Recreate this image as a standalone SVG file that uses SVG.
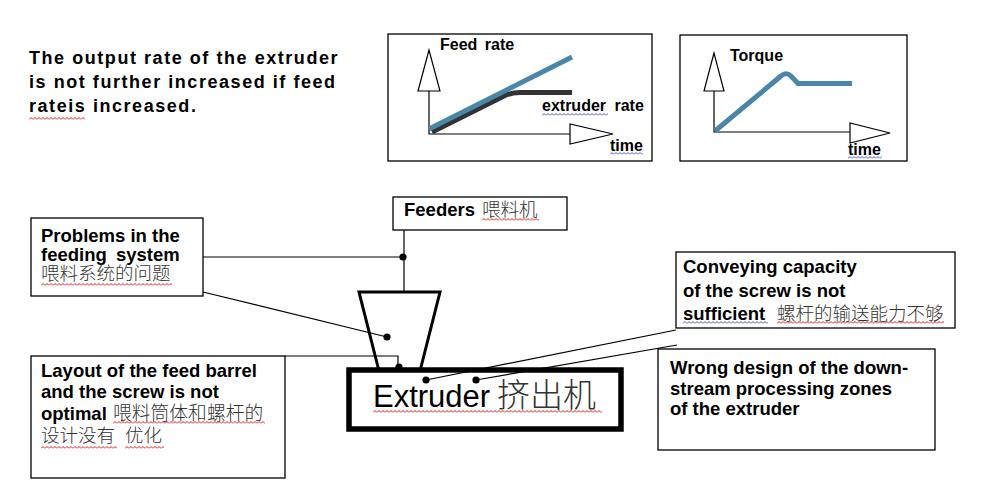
<svg xmlns="http://www.w3.org/2000/svg" width="987" height="486" viewBox="0 0 987 486">
<style>
.bg{fill:#fff}
.box{fill:#fff;stroke:#000;stroke-width:1.3}
.chart{fill:#fff;stroke:#000;stroke-width:1.3}
.ax{fill:none;stroke:#000;stroke-width:1.2}
.tri{fill:#fff;stroke:#000;stroke-width:1.2}
.lbl{font-family:"Liberation Sans",Arial,sans-serif;font-weight:bold;font-size:18.5px;fill:#000}
.clbl{font-family:"Liberation Sans",Arial,sans-serif;font-weight:bold;font-size:16px;fill:#000}
.cjk{font-family:"Noto Sans CJK SC","Liberation Sans",sans-serif;font-weight:300;fill:#333}
.con{fill:none;stroke:#000;stroke-width:1.2}
.dot{fill:#000}
</style>
<defs>
<pattern id="wr" patternUnits="userSpaceOnUse" width="4" height="3"><path d="M0,2.5 L2,0.5 L4,2.5" fill="none" stroke="#e00000" stroke-width="0.9"/></pattern>
<pattern id="wb" patternUnits="userSpaceOnUse" width="4" height="3"><path d="M0,2.5 L2,0.5 L4,2.5" fill="none" stroke="#3040d0" stroke-width="0.9"/></pattern>
</defs>
<rect class="bg" x="0" y="0" width="987" height="486"/>

<g id="title">
<text class="lbl" font-size="18" style="font-size:18px" letter-spacing="1.55" x="29" y="64">The output rate of the extruder</text>
<text class="lbl" style="font-size:18px" letter-spacing="1.55" x="29" y="88">is not further increased if feed</text>
<text class="lbl" style="font-size:18px" letter-spacing="1.55" x="29" y="112">rateis increased.</text>
<rect x="0" y="0" width="56" height="3" fill="url(#wr)" transform="translate(29,117)"/>
</g>

<g id="chart-feed">
<rect class="chart" x="388" y="34" width="264" height="127"/>
<polygon class="tri" points="429,50 418,91 440,91"/>
<path class="ax" d="M429,91 L429,134 L570,134"/>
<polygon class="tri" points="570,124 570,144 613,134"/>
<path d="M432,132 L506,95 Q512,92.5 520,92.5 L572,92.5" fill="none" stroke="#333" stroke-width="5"/>
<path d="M429,129 L572,57" fill="none" stroke="#4a86a8" stroke-width="5"/>
<text class="clbl" x="440" y="50" word-spacing="3">Feed rate</text>
<text class="clbl" x="542" y="111" word-spacing="4">extruder rate</text>
<rect x="0" y="0" width="66" height="3" fill="url(#wb)" transform="translate(542,113)"/>
<text class="clbl" x="610" y="151">time</text>
<rect x="0" y="0" width="33" height="3" fill="url(#wb)" transform="translate(610,152)"/>
</g>

<g id="chart-torque">
<rect class="chart" x="680" y="35" width="227" height="126"/>
<polygon class="tri" points="714,53 704,91 724,91"/>
<path class="ax" d="M714,91 L714,132 L850,132"/>
<polygon class="tri" points="850,123 850,143 890,133"/>
<path d="M715,131 L781,76 Q786,71.5 791,76 L798,83.5 L852,83.5" fill="none" stroke="#4a86a8" stroke-width="5"/>
<text class="clbl" x="730" y="61">Torque</text>
<text class="clbl" x="848" y="155">time</text>
<rect x="0" y="0" width="34" height="3" fill="url(#wb)" transform="translate(848,156)"/>
</g>

<g id="hopper">
<path d="M379,371 L359,292 L440,292 L420,371" fill="#fff" stroke="#000" stroke-width="3" stroke-linejoin="miter"/>
</g>

<g id="extruder">
<rect x="349" y="370" width="272" height="59" fill="#fff" stroke="#000" stroke-width="5.5"/>
<text x="373" y="407" font-family="Liberation Sans, Arial, sans-serif" font-size="31" fill="#000">Extruder<tspan class="cjk" x="497" font-size="33" fill="#111">挤出机</tspan></text>
<rect x="0" y="0" width="229" height="3" fill="url(#wr)" transform="translate(373,410)"/>
</g>

<g id="connectors">
<path class="con" d="M404,230 L404,292"/>
<path class="con" d="M203,257 L404,257"/>
<path class="con" d="M203,292 L387,337"/>
<path class="con" d="M285,356 L398,356 L398,367"/>
<path class="con" d="M426,380 L676,330"/>
<path class="con" d="M476,380 L677,345"/>
<circle class="dot" cx="403" cy="257" r="3.6"/>
<circle class="dot" cx="387" cy="337" r="3.6"/>
<circle class="dot" cx="399" cy="367" r="3.6"/>
<circle class="dot" cx="426" cy="380" r="3.6"/>
<circle class="dot" cx="476" cy="380" r="3.6"/>
</g>

<g id="feeders">
<rect class="box" x="393" y="197" width="174" height="33"/>
<text class="lbl" x="404" y="216">Feeders<tspan class="cjk" x="482" font-size="18.5">喂料机</tspan></text>
<rect x="0" y="0" width="57" height="3" fill="url(#wr)" transform="translate(482,218)"/>
</g>

<g id="problems">
<rect class="box" x="31" y="218" width="172" height="78"/>
<text class="lbl" x="41" y="242">Problems in the</text>
<text class="lbl" x="41" y="261" word-spacing="4">feeding system</text>
<text class="cjk" x="41" y="280" font-size="18.5">喂料系统的问题</text>
<rect x="0" y="0" width="131" height="3" fill="url(#wr)" transform="translate(41,283)"/>
</g>

<g id="layout">
<rect class="box" x="31" y="356" width="254" height="122"/>
<text class="lbl" x="41" y="377">Layout of the feed barrel</text>
<text class="lbl" x="41" y="398">and the screw is not</text>
<text class="lbl" x="41" y="420">optimal<tspan class="cjk" x="113" font-size="18.8">喂料筒体和螺杆的</tspan></text>
<text class="cjk" x="41" y="442" font-size="18.5">设计没有<tspan x="125">优化</tspan></text>
<rect x="0" y="0" width="152" height="3" fill="url(#wr)" transform="translate(113,421)"/>
<rect x="0" y="0" width="76" height="3" fill="url(#wr)" transform="translate(41,446)"/>
<rect x="0" y="0" width="39" height="3" fill="url(#wr)" transform="translate(125,446)"/>
</g>

<g id="conveying">
<rect class="box" x="676" y="252" width="279" height="76"/>
<text class="lbl" x="683" y="273">Conveying capacity</text>
<text class="lbl" x="683" y="297">of the screw is not</text>
<text class="lbl" x="683" y="320">sufficient<tspan class="cjk" x="777" font-size="18.5">螺杆的输送能力不够</tspan></text>
<rect x="0" y="0" width="85" height="3" fill="url(#wb)" transform="translate(683,321)"/>
<rect x="0" y="0" width="167" height="3" fill="url(#wr)" transform="translate(777,321)"/>
</g>

<g id="wrong-design">
<rect class="box" x="658" y="349" width="277" height="101"/>
<text class="lbl" x="670" y="374">Wrong design of the down-</text>
<text class="lbl" x="670" y="395">stream processing zones</text>
<text class="lbl" x="670" y="415">of the extruder</text>
</g>
</svg>
